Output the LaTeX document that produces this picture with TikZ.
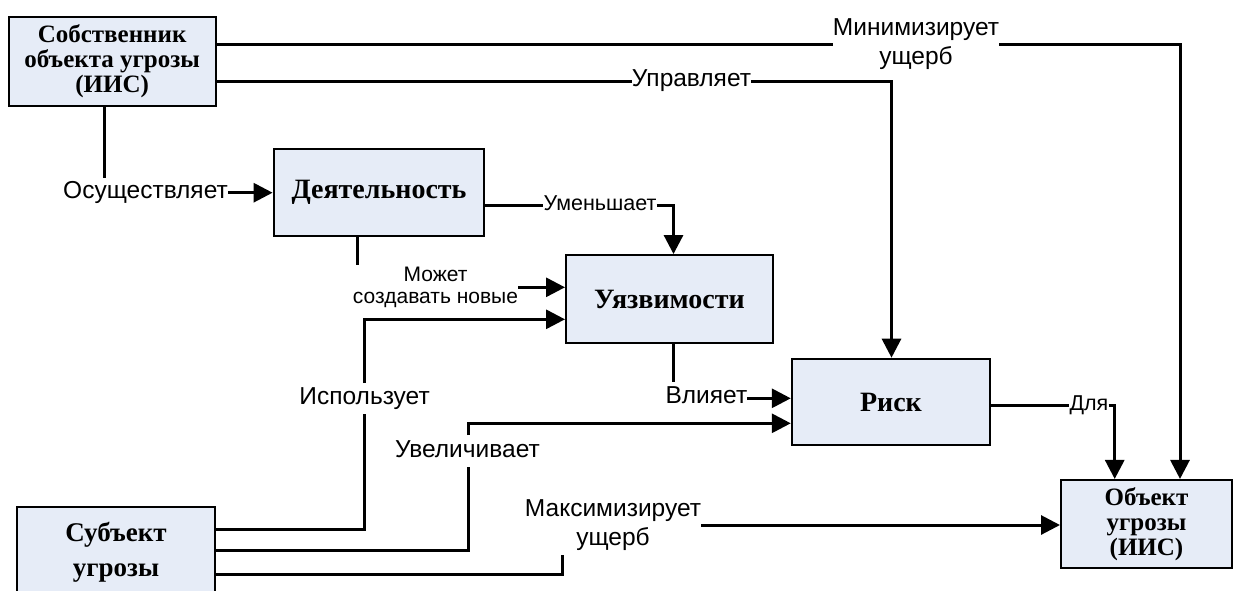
\documentclass[tikz,border=0pt]{standalone}
\usepackage{fontspec}
\setmainfont{Liberation Serif}
\setsansfont{Liberation Sans}
\usetikzlibrary{arrows.meta}
\definecolor{boxfill}{RGB}{230,236,247}
\begin{document}
\begin{tikzpicture}[x=1pt,y=-1pt,
  box/.style={draw=black,line width=2pt,fill=boxfill,align=center,inner sep=0pt},
  bigtxt/.style={font=\fontsize{25}{25}\selectfont\bfseries},
  onetxt/.style={font=\fontsize{28}{28}\selectfont\bfseries},
  lbl/.style={inner sep=0pt,font=\sffamily\fontsize{24.5}{29}\selectfont,text height=17.2pt,text depth=5.9pt},
  lblm/.style={inner sep=0pt,align=center,font=\sffamily\fontsize{24.5}{29}\selectfont},
  slbl/.style={inner sep=0pt,font=\sffamily\fontsize{21.5}{19}\selectfont,text height=15pt,text depth=5.2pt},
  slblm/.style={inner sep=0pt,align=center,font=\sffamily\fontsize{21}{21.5}\selectfont},
  conn/.style={line width=3pt},
  arr/.style={line width=3pt,-{Triangle[length=19pt,width=19pt]}}]
\useasboundingbox (0,0) rectangle (1233,590);
\clip (0,0) rectangle (1233,590);
\fill[white] (0,0) rectangle (1233,590);
% boxes
\node[box,bigtxt,minimum width=206.8pt,minimum height=88.7pt] (own) at (112.1,61.7) {Собственник\\объекта угрозы\\(ИИС)};
\node[box,onetxt,minimum width=210.8pt,minimum height=87pt] (act) at (379,192.5) {Деятельность};
\node[box,onetxt,minimum width=206.8pt,minimum height=88.3pt] (vul) at (669.4,299.2) {Уязвимости};
\node[box,onetxt,minimum width=198.2pt,minimum height=86.6pt] (risk) at (890.9,402) {Риск};
\node[box,bigtxt,minimum width=171pt,minimum height=87.7pt] (obj) at (1146.5,523.8) {Объект\\угрозы\\(ИИС)};
\node[box,font=\fontsize{27}{35}\selectfont\bfseries,minimum width=198.9pt,minimum height=90pt] (subj) at (116,552.3) {Субъект\\угрозы};
% labels
\node[lblm] (mini) at (916,44) {Минимизирует\\ущерб};
\node[lbl] (upr) at (691.5,81) {Управляет};
\node[lbl,anchor=east] (osu) at (228,192.7) {Осуществляет};
\node[slbl] (umen) at (600,205.5) {Уменьшает};
\node[slblm] (mozh) at (435.5,287.3) {Может\\создавать новые};
\node[lbl] (isp) at (364.6,399) {Использует};
\node[lbl] (uvel) at (467.5,452) {Увеличивает};
\node[lbl,anchor=east] (vliy) at (747.4,398.3) {Влияет};
\node[lblm] (maks) at (613,525) {Максимизирует\\ущерб};
\node[slbl] (dlya) at (1089,405.7) {Для};
% turning points
\coordinate (minTurn) at (1180,44);
\coordinate (uprTurn) at (891.5,81);
\coordinate (osuTop) at (104.8,178);
\coordinate (umTurn) at (673.5,205.5);
\coordinate (mozTop) at (357.8,265);
\coordinate (ispCorner) at (364.6,529.3);
\coordinate (ispBot) at (364.6,414);
\coordinate (ispTop) at (364.6,383);
\coordinate (ispTurn) at (364.6,319.3);
\coordinate (uvCorner) at (468.6,550.7);
\coordinate (uvBot) at (468.6,467);
\coordinate (uvTop) at (468.6,435);
\coordinate (uvTurn) at (468.6,423.3);
\coordinate (mxCorner) at (562.3,574);
\coordinate (mxBot) at (562.3,555);
\coordinate (vliTop) at (673.5,381.7);
\coordinate (dlyaTurn) at (1114.7,405.7);
% connectors
\draw[conn] (own.east |- minTurn) -- (mini.west |- minTurn);
\draw[arr] (mini.east |- minTurn) -- (minTurn) -- (obj.north -| minTurn);
\draw[conn] (own.east |- uprTurn) -- (upr.west);
\draw[arr] (upr.east) -- (uprTurn) -- (risk.north -| uprTurn);
\draw[conn] (own.south -| osuTop) -- (osuTop);
\draw[arr] (osu.east) -- (act.west |- osu.east);
\draw[conn] (act.east |- umTurn) -- (umen.west);
\draw[arr] (umen.east) -- (umTurn) -- (vul.north -| umTurn);
\draw[conn] (act.south -| mozTop) -- (mozTop);
\draw[arr] (mozh.east) -- (vul.west |- mozh.east);
\draw[conn] (subj.east |- ispCorner) -- (ispCorner) -- (ispBot);
\draw[arr] (ispTop) -- (ispTurn) -- (vul.west |- ispTurn);
\draw[conn] (subj.east |- uvCorner) -- (uvCorner) -- (uvBot);
\draw[arr] (uvTop) -- (uvTurn) -- (risk.west |- uvTurn);
\draw[conn] (subj.east |- mxCorner) -- (mxCorner) -- (mxBot);
\draw[arr] (maks.east) -- (obj.west |- maks.east);
\draw[conn] (vul.south -| vliTop) -- (vliTop);
\draw[arr] (vliy.east) -- (risk.west |- vliy.east);
\draw[conn] (risk.east |- dlyaTurn) -- (dlya.west);
\draw[arr] (dlya.east) -- (dlyaTurn) -- (obj.north -| dlyaTurn);
\end{tikzpicture}
\end{document}
